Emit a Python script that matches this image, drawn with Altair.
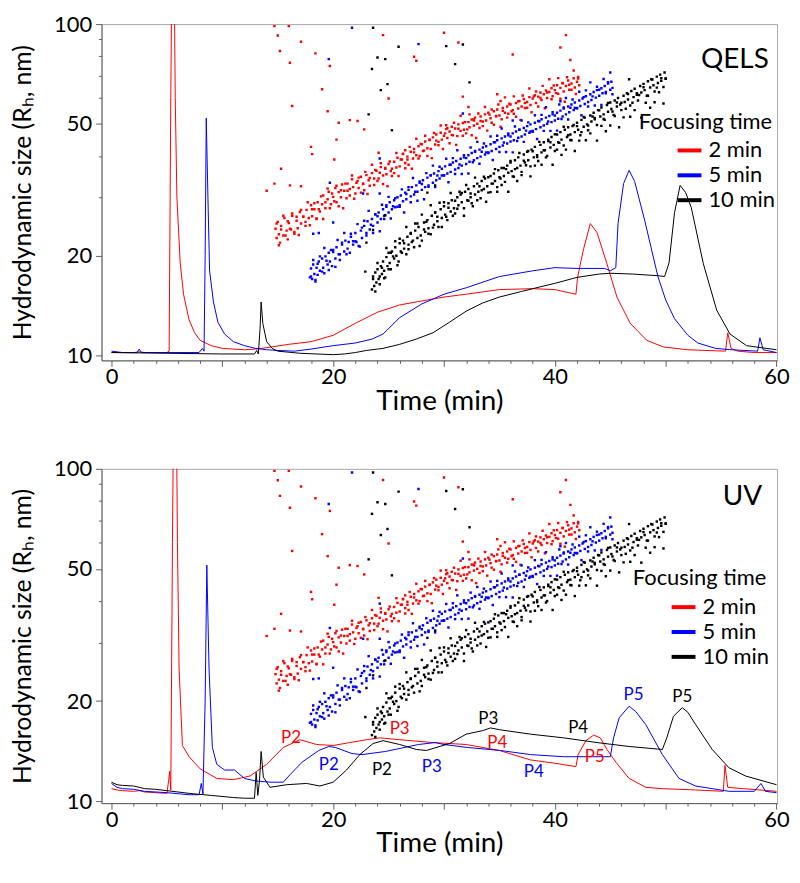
import altair as alt
import pandas as pd

FONT = "Lato"
SERIES = ["2 min", "5 min", "10 min"]
COLORS = ["#ff0000", "#0000ff", "#000000"]
X_TICKS = list(range(0, 61, 2))
Y_TICKS = [10, 20, 30, 40, 50, 60, 70, 80, 90, 100]

# ---- size-from-light-scattering points (same in both panels) ----
red_band = [(14.8, 24.1), (14.9, 22.6), (15.0, 25.3), (15.1, 23.2), (15.2, 21.9), (15.3, 24.6), (15.5, 23.0), (15.6, 26.0),
            (15.8, 23.8), (15.9, 22.4), (16.0, 25.1), (16.2, 24.0), (16.3, 26.4), (16.5, 23.6), (16.7, 25.5), (16.8, 24.2),
            (17.0, 27.1), (17.1, 25.0), (17.3, 26.2), (17.5, 24.6), (17.6, 27.5), (17.8, 26.0), (18.0, 28.4), (18.1, 26.3),
            (18.3, 27.6), (18.5, 25.8), (18.6, 29.0), (18.8, 27.2), (19.0, 28.6), (19.1, 30.4), (19.3, 27.8), (19.5, 29.6),
            (19.6, 31.2), (19.8, 28.6), (20.0, 30.1), (20.2, 32.0), (20.3, 29.0), (20.5, 31.1), (20.7, 30.0), (20.8, 32.8),
            (21.0, 31.4), (21.2, 29.8), (21.3, 33.0), (21.5, 31.8), (21.7, 34.0), (21.8, 32.2), (22.0, 30.8), (22.2, 33.6),
            (22.3, 32.0), (22.5, 34.6), (22.7, 33.0), (22.8, 31.5), (23.0, 35.0), (23.2, 33.8), (23.3, 32.5), (23.5, 35.5),
            (23.7, 34.2), (23.8, 36.3), (24.0, 33.6), (24.2, 35.6), (24.3, 37.0), (24.5, 34.9), (24.7, 36.6), (24.8, 35.2),
            (25.0, 37.8), (25.2, 36.0), (25.3, 34.8), (25.5, 38.4), (25.7, 36.9), (25.8, 39.5), (26.0, 37.2), (26.2, 39.0),
            (26.3, 40.6), (26.5, 38.1), (26.7, 39.8), (26.8, 37.6), (27.0, 41.2), (27.2, 39.3), (27.3, 42.0), (27.5, 40.2),
            (27.7, 42.8), (27.8, 40.0), (28.0, 43.4), (28.2, 41.5), (28.3, 44.2), (28.5, 42.2), (28.7, 44.8), (28.8, 42.0),
            (29.0, 45.5), (29.2, 43.3), (29.3, 46.4), (29.5, 44.1), (29.7, 47.0), (29.8, 44.8), (30.0, 46.0), (30.2, 48.2),
            (30.3, 45.3), (30.5, 47.4), (30.7, 49.0), (30.8, 46.2), (31.0, 48.4), (31.2, 45.9), (31.3, 49.8), (31.5, 47.6),
            (31.7, 50.3), (31.8, 48.0), (32.0, 46.8), (32.2, 50.6), (32.3, 48.8), (32.5, 51.5), (32.7, 49.4), (32.8, 52.2),
            (33.0, 50.0), (33.2, 48.6), (33.3, 52.6), (33.5, 50.8), (33.7, 53.4), (33.8, 51.2), (34.0, 54.0), (34.2, 52.0),
            (34.3, 50.4), (34.5, 54.6), (34.7, 52.8), (34.8, 55.2), (35.0, 53.0), (35.2, 51.6), (35.3, 55.8), (35.5, 54.0),
            (35.7, 56.4), (35.8, 53.6), (36.0, 57.2), (36.2, 55.0), (36.3, 53.6), (36.5, 57.8), (36.7, 55.6), (36.8, 58.6),
            (37.0, 56.4), (37.2, 59.4), (37.3, 55.8), (37.5, 58.2), (37.7, 60.2), (37.8, 57.0), (38.0, 59.6), (38.2, 61.0),
            (38.3, 57.8), (38.5, 60.4), (38.7, 62.2), (38.8, 59.0), (39.0, 61.4), (39.2, 63.0), (39.3, 59.8), (39.5, 62.4),
            (39.7, 64.0), (39.8, 60.6), (40.0, 63.2), (40.2, 65.4), (40.3, 61.6), (40.5, 64.2), (40.7, 66.4), (40.8, 62.6),
            (41.0, 65.0), (41.2, 67.6), (41.3, 63.4), (41.5, 66.2), (41.7, 68.6), (41.8, 64.4), (42.0, 67.0), (42.1, 69.2),
            (42.2, 65.4)]
red_band_b = [(14.9, 25.0), (15.1, 21.5), (15.3, 24.0), (15.5, 26.4), (15.7, 23.0), (15.9, 25.4), (16.1, 24.1), (16.3, 26.8),
              (16.5, 23.3), (16.7, 26.2), (16.9, 23.1), (17.1, 27.5), (17.3, 26.2), (17.5, 25.3), (17.7, 29.0), (17.9, 24.7),
              (18.1, 27.6), (18.3, 28.8), (18.5, 25.9), (18.7, 27.6), (18.9, 30.2), (19.1, 25.8), (19.3, 29.0), (19.5, 31.9),
              (19.7, 27.8), (19.9, 30.8), (20.1, 29.2), (20.3, 32.5), (20.5, 28.2), (20.7, 31.5), (20.9, 27.8), (21.1, 33.0),
              (21.3, 31.4), (21.5, 30.4), (21.7, 34.9), (21.9, 29.7), (22.1, 33.2), (22.3, 34.4), (22.5, 31.0), (22.7, 32.9),
              (22.9, 35.8), (23.1, 30.7), (23.3, 34.3), (23.5, 37.6), (23.7, 32.7), (23.9, 36.1), (24.1, 34.2), (24.3, 38.0),
              (24.5, 32.9), (24.7, 36.8), (24.9, 32.4), (25.1, 38.5), (25.3, 36.6), (25.5, 35.5), (25.7, 40.8), (25.9, 34.8),
              (26.1, 39.0), (26.3, 40.5), (26.5, 36.7), (26.7, 39.0), (26.9, 42.6), (27.1, 36.6), (27.3, 41.0), (27.5, 45.1),
              (27.7, 39.3), (27.9, 43.5), (28.1, 41.4), (28.3, 46.0), (28.5, 40.0), (28.7, 44.7), (28.9, 39.4), (29.1, 46.9),
              (29.3, 44.5), (29.5, 43.1), (29.7, 49.4), (29.9, 42.0), (30.1, 46.8), (30.3, 48.5), (30.5, 43.7), (30.7, 46.3),
              (30.9, 50.4), (31.1, 43.2), (31.3, 48.3), (31.5, 52.9), (31.7, 46.0), (31.9, 50.6), (32.1, 48.1), (32.3, 53.4),
              (32.5, 46.2), (32.7, 51.5), (32.9, 45.3), (33.1, 53.7), (33.3, 51.0), (33.5, 49.2), (33.7, 56.2), (33.9, 47.7),
              (34.1, 53.3), (34.3, 55.2), (34.5, 49.7), (34.7, 52.7), (34.9, 57.2), (35.1, 49.0), (35.3, 54.7), (35.5, 60.1),
              (35.7, 52.2), (35.9, 57.5), (36.1, 54.6), (36.3, 60.5), (36.5, 52.5), (36.7, 58.5), (36.9, 51.4), (37.1, 60.9),
              (37.3, 57.8), (37.5, 55.9), (37.7, 63.9), (37.9, 54.2), (38.1, 60.5), (38.3, 62.6), (38.5, 56.4), (38.7, 59.8),
              (38.9, 65.1), (39.1, 55.7), (39.3, 62.2), (39.5, 68.2), (39.7, 59.3), (39.9, 65.3), (40.1, 61.9), (40.3, 68.7),
              (40.5, 59.5), (40.7, 66.3), (40.9, 58.3), (41.1, 69.1), (41.3, 65.6), (41.5, 63.4), (41.7, 72.4), (41.9, 61.5),
              (42.1, 68.5)]
red_outliers = [(14.7, 98.6), (16.0, 98.6), (15.0, 92.4), (15.2, 82.9), (16.1, 76.4), (17.1, 88.5), (18.4, 81.6),
                (16.3, 56.6), (19.0, 63.6), (19.5, 54.6), (19.7, 74.7), (20.5, 50.4), (20.3, 44.8), (21.5, 51.3),
                (22.2, 51.0), (22.8, 48.1), (20.1, 39.0), (18.0, 42.6), (18.1, 40.5), (15.3, 36.6), (24.1, 40.9),
                (24.5, 92.6), (25.0, 59.6), (14.0, 31.4), (14.7, 33.0), (16.1, 32.6), (17.1, 32.4), (30.0, 94.2),
                (31.3, 88.0), (27.3, 79.7), (27.5, 77.5), (36.2, 81.0), (41.0, 92.6), (40.5, 85.0), (41.4, 77.9),
                (31.7, 60.4), (32.2, 56.2), (34.8, 61.4), (35.1, 58.6), (30.2, 49.5), (32.7, 51.2), (26.5, 41.6)]
blue_band = [(17.9, 17.2), (18.0, 18.3), (18.1, 17.0), (18.2, 18.8), (18.3, 17.6), (18.4, 16.9), (18.5, 18.4), (18.6, 17.5),
             (18.7, 19.2), (18.8, 18.0), (19.0, 19.6), (19.1, 18.4), (19.2, 17.7), (19.3, 19.9), (19.5, 18.8), (19.6, 20.4),
             (19.7, 19.2), (19.9, 18.6), (20.0, 20.8), (20.2, 19.6), (20.3, 21.2), (20.5, 20.2), (20.6, 19.4), (20.8, 21.6),
             (21.0, 20.6), (21.1, 22.2), (21.3, 21.0), (21.5, 20.4), (21.6, 22.8), (21.8, 21.6), (22.0, 23.4), (22.1, 22.0),
             (22.3, 21.4), (22.5, 23.8), (22.6, 22.6), (22.8, 24.6), (23.0, 23.4), (23.1, 25.4), (23.3, 24.0), (23.5, 25.8),
             (23.6, 24.6), (23.8, 26.6), (24.0, 25.2), (24.1, 27.0), (24.3, 25.8), (24.5, 27.6), (24.6, 26.4), (24.8, 28.4),
             (25.0, 27.0), (25.1, 29.0), (25.3, 27.6), (25.5, 29.4), (25.6, 28.0), (25.8, 30.0), (26.0, 28.4), (26.1, 30.4),
             (26.3, 29.2), (26.5, 31.0), (26.6, 29.6), (26.8, 31.6), (27.0, 30.2), (27.1, 32.2), (27.3, 30.6), (27.5, 32.6),
             (27.6, 31.2), (27.8, 33.2), (28.0, 31.6), (28.1, 33.8), (28.3, 32.2), (28.5, 34.4), (28.6, 32.6), (28.8, 35.0),
             (29.0, 33.2), (29.1, 35.4), (29.3, 33.8), (29.5, 36.0), (29.6, 34.2), (29.8, 36.6), (30.0, 35.0), (30.1, 37.2),
             (30.3, 35.4), (30.5, 37.6), (30.6, 35.8), (30.8, 38.2), (31.0, 36.4), (31.1, 38.6), (31.3, 36.8), (31.5, 39.2),
             (31.6, 37.4), (31.8, 39.6), (32.0, 37.8), (32.2, 40.2), (32.3, 38.4), (32.5, 40.8), (32.7, 38.8), (32.8, 41.2),
             (33.0, 39.4), (33.2, 41.8), (33.3, 39.8), (33.5, 42.4), (33.7, 40.4), (33.8, 42.8), (34.0, 41.0), (34.2, 43.4),
             (34.3, 41.4), (34.5, 44.0), (34.7, 42.0), (34.8, 44.6), (35.0, 42.6), (35.2, 45.2), (35.3, 43.0), (35.5, 45.8),
             (35.7, 43.6), (35.8, 46.2), (36.0, 44.2), (36.2, 46.8), (36.3, 44.6), (36.5, 47.4), (36.7, 45.4), (36.8, 48.0),
             (37.0, 45.8), (37.2, 48.6), (37.3, 46.4), (37.5, 49.2), (37.7, 47.0), (37.8, 49.8), (38.0, 47.6), (38.2, 50.4),
             (38.3, 48.2), (38.5, 51.0), (38.7, 48.8), (38.8, 51.6), (39.0, 49.4), (39.2, 52.2), (39.3, 50.0), (39.5, 52.8),
             (39.7, 50.6), (39.8, 53.4), (40.0, 51.2), (40.2, 54.0), (40.3, 51.8), (40.5, 54.8), (40.7, 52.6), (40.8, 55.6),
             (41.0, 53.4), (41.2, 56.4), (41.3, 54.2), (41.5, 57.2), (41.7, 55.0), (41.8, 58.0), (42.0, 55.8), (42.2, 58.8),
             (42.3, 56.6), (42.5, 59.6), (42.7, 57.4), (42.8, 60.6), (43.0, 58.2), (43.2, 61.4), (43.3, 59.0), (43.5, 62.4),
             (43.7, 60.0), (43.8, 63.2), (44.0, 60.8), (44.2, 64.0), (44.3, 61.8), (44.5, 65.0), (44.6, 62.4), (44.8, 66.2),
             (45.0, 63.4), (45.1, 67.0), (45.2, 64.2)]
blue_band_b = [(18.0, 17.3), (18.2, 19.4), (18.4, 16.7), (18.6, 18.9), (18.8, 19.9), (19.0, 17.9), (19.2, 21.1), (19.4, 19.3),
               (19.6, 18.1), (19.8, 20.8), (20.0, 20.5), (20.2, 18.5), (20.4, 22.3), (20.6, 20.2), (20.8, 21.9), (21.0, 23.4),
               (21.2, 20.2), (21.4, 22.0), (21.6, 23.3), (21.8, 22.1), (22.0, 22.1), (22.2, 24.9), (22.4, 21.3), (22.6, 24.3),
               (22.8, 25.5), (23.0, 23.0), (23.2, 27.3), (23.4, 24.8), (23.6, 23.4), (23.8, 26.7), (24.0, 26.3), (24.2, 23.7),
               (24.4, 28.5), (24.6, 25.8), (24.8, 28.1), (25.0, 30.1), (25.2, 25.9), (25.4, 28.2), (25.6, 29.8), (25.8, 28.1),
               (26.0, 28.1), (26.2, 31.7), (26.4, 27.0), (26.6, 30.7), (26.8, 32.2), (27.0, 29.0), (27.2, 34.3), (27.4, 31.2),
               (27.6, 29.3), (27.8, 33.5), (28.0, 32.9), (28.2, 29.6), (28.4, 35.5), (28.6, 32.3), (28.8, 34.9), (29.0, 37.4),
               (29.2, 32.2), (29.4, 34.9), (29.6, 37.1), (29.8, 34.9), (30.0, 34.9), (30.2, 39.2), (30.4, 33.3), (30.6, 37.6),
               (30.8, 39.4), (31.0, 35.3), (31.2, 41.6), (31.4, 37.7), (31.6, 35.3), (31.8, 40.2), (32.0, 39.4), (32.2, 35.4),
               (32.4, 42.4), (32.6, 38.3), (32.8, 41.4), (33.0, 44.1), (33.2, 37.9), (33.4, 41.2), (33.6, 43.6), (33.8, 41.0),
               (34.0, 40.8), (34.2, 45.8), (34.4, 38.9), (34.6, 44.0), (34.8, 46.0), (35.0, 41.1), (35.2, 48.4), (35.4, 43.9),
               (35.6, 41.1), (35.8, 46.8), (36.0, 45.8), (36.2, 41.0), (36.4, 49.1), (36.6, 44.4), (36.8, 48.0), (37.0, 51.2),
               (37.2, 44.1), (37.4, 47.7), (37.6, 50.5), (37.8, 47.4), (38.0, 47.3), (38.2, 53.1), (38.4, 45.0), (38.6, 50.9),
               (38.8, 53.2), (39.0, 47.6), (39.2, 56.1), (39.4, 50.8), (39.6, 47.6), (39.8, 54.2), (40.0, 53.0), (40.2, 47.7),
               (40.4, 57.2), (40.6, 51.7), (40.8, 56.0), (41.0, 59.8), (41.2, 51.5), (41.4, 55.9), (41.6, 59.2), (41.8, 55.8),
               (42.0, 55.7), (42.2, 62.5), (42.4, 53.1), (42.6, 60.2), (42.8, 63.1), (43.0, 56.4), (43.2, 66.7), (43.4, 60.5),
               (43.6, 56.8), (43.8, 64.7), (44.0, 63.4), (44.2, 57.0), (44.4, 68.3), (44.6, 61.8), (44.8, 66.8), (45.0, 71.4),
               (45.2, 61.4)]
blue_outliers = [(21.7, 97.5), (19.6, 78.4), (19.7, 33.2), (20.0, 25.2), (18.2, 23.3), (18.7, 23.4), (22.7, 30.8),
                 (24.2, 30.8), (24.2, 39.3), (27.7, 87.0), (31.7, 53.7), (36.2, 51.2), (40.5, 58.5)]
black_band = [(23.5, 15.8), (23.6, 17.0), (23.7, 16.2), (23.8, 17.8), (23.9, 16.6), (24.0, 18.2), (24.1, 17.0), (24.2, 16.4),
              (24.3, 18.6), (24.4, 17.6), (24.5, 19.2), (24.6, 18.0), (24.7, 17.2), (24.8, 19.8), (24.9, 18.6), (25.0, 20.4),
              (25.1, 19.0), (25.2, 18.2), (25.3, 20.6), (25.5, 19.6), (25.6, 21.2), (25.7, 20.0), (25.9, 19.2), (26.0, 21.8),
              (26.1, 20.6), (26.3, 22.2), (26.4, 21.0), (26.6, 20.2), (26.7, 22.8), (26.8, 21.6), (27.0, 23.4), (27.1, 22.0),
              (27.3, 21.2), (27.4, 23.8), (27.6, 22.6), (27.7, 24.4), (27.9, 23.0), (28.0, 22.2), (28.2, 25.2), (28.3, 23.6),
              (28.5, 25.6), (28.6, 24.2), (28.8, 23.2), (28.9, 26.4), (29.1, 24.8), (29.2, 27.0), (29.4, 25.4), (29.5, 24.4),
              (29.7, 27.6), (29.8, 26.0), (30.0, 28.2), (30.1, 26.6), (30.3, 25.6), (30.4, 28.8), (30.6, 27.2), (30.7, 29.4),
              (30.9, 27.8), (31.0, 26.8), (31.2, 30.0), (31.3, 28.4), (31.5, 30.6), (31.6, 29.0), (31.8, 27.8), (31.9, 31.2),
              (32.1, 29.4), (32.2, 31.8), (32.4, 30.0), (32.5, 28.8), (32.7, 32.4), (32.8, 30.6), (33.0, 33.0), (33.1, 31.2),
              (33.3, 29.8), (33.4, 33.6), (33.6, 31.8), (33.7, 34.2), (33.9, 32.4), (34.0, 31.0), (34.2, 34.8), (34.3, 33.0),
              (34.5, 35.4), (34.6, 33.6), (34.8, 32.2), (34.9, 36.2), (35.1, 34.2), (35.2, 36.8), (35.4, 34.8), (35.5, 33.4),
              (35.7, 37.4), (35.8, 35.6), (36.0, 38.2), (36.1, 36.0), (36.3, 34.6), (36.4, 38.8), (36.6, 36.8), (36.7, 39.6),
              (36.9, 37.4), (37.0, 35.8), (37.2, 40.4), (37.3, 38.2), (37.5, 41.2), (37.6, 38.8), (37.8, 37.2), (37.9, 41.8),
              (38.1, 39.6), (38.2, 42.6), (38.4, 40.2), (38.5, 38.6), (38.7, 43.2), (38.8, 41.0), (39.0, 44.0), (39.1, 41.6),
              (39.3, 40.0), (39.4, 44.8), (39.6, 42.4), (39.7, 45.6), (39.9, 43.2), (40.0, 41.4), (40.2, 46.4), (40.3, 44.0),
              (40.5, 47.2), (40.6, 44.8), (40.8, 43.0), (40.9, 48.0), (41.1, 45.6), (41.2, 48.8), (41.4, 46.4), (41.5, 44.6),
              (41.7, 49.6), (41.8, 47.2), (42.0, 50.4), (42.1, 48.0), (42.3, 46.2), (42.4, 51.4), (42.6, 49.0), (42.7, 52.2),
              (42.9, 49.8), (43.0, 47.8), (43.2, 53.0), (43.3, 50.8), (43.5, 54.0), (43.6, 51.6), (43.8, 49.6), (43.9, 55.0),
              (44.1, 52.6), (44.2, 56.0), (44.4, 53.4), (44.5, 51.4), (44.7, 57.0), (44.8, 54.4), (45.0, 58.0), (45.1, 55.4),
              (45.3, 53.2), (45.4, 58.8), (45.6, 56.4), (45.7, 59.8), (45.9, 57.2), (46.0, 55.0), (46.2, 60.8), (46.3, 58.2),
              (46.5, 61.8), (46.6, 59.2), (46.8, 56.8), (46.9, 62.8), (47.1, 60.2), (47.2, 63.8), (47.4, 61.2), (47.5, 58.8),
              (47.7, 65.0), (47.8, 62.2), (48.0, 66.0), (48.1, 63.2), (48.3, 60.8), (48.4, 67.2), (48.6, 64.4), (48.7, 68.2),
              (48.9, 65.4), (49.0, 62.6), (49.2, 69.4), (49.3, 66.4), (49.5, 70.4), (49.6, 67.4), (49.8, 64.6), (49.9, 71.4),
              (50.0, 68.4)]
black_band_b = [(23.6, 17.3), (23.8, 15.6), (24.0, 19.0), (24.2, 17.3), (24.4, 18.4), (24.6, 17.1), (24.8, 21.1), (25.0, 18.2),
                (25.2, 20.4), (25.4, 19.9), (25.6, 22.1), (25.8, 18.7), (26.0, 22.5), (26.2, 20.4), (26.4, 21.8), (26.6, 24.4),
                (26.8, 20.9), (27.0, 23.3), (27.2, 22.2), (27.4, 25.0), (27.6, 25.0), (27.8, 21.4), (28.0, 26.6), (28.2, 24.0),
                (28.4, 25.3), (28.6, 23.3), (28.8, 28.4), (29.0, 24.3), (29.2, 27.0), (29.4, 26.2), (29.6, 28.9), (29.8, 24.4),
                (30.0, 29.0), (30.2, 26.2), (30.4, 27.9), (30.6, 30.9), (30.8, 26.4), (31.0, 29.3), (31.2, 27.7), (31.4, 31.2),
                (31.6, 30.9), (31.8, 26.4), (32.0, 32.7), (32.2, 29.3), (32.4, 30.8), (32.6, 28.2), (32.8, 34.4), (33.0, 29.4),
                (33.2, 32.4), (33.4, 31.5), (33.6, 34.6), (33.8, 29.1), (34.0, 34.5), (34.2, 31.1), (34.4, 33.0), (34.6, 36.5),
                (34.8, 31.2), (35.0, 34.5), (35.2, 32.7), (35.4, 36.8), (35.6, 36.5), (35.8, 31.2), (36.0, 38.6), (36.2, 34.7),
                (36.4, 36.5), (36.6, 33.6), (36.8, 40.8), (37.0, 35.0), (37.2, 38.7), (37.4, 37.5), (37.6, 41.4), (37.8, 34.7),
                (38.0, 41.3), (38.2, 37.4), (38.4, 39.7), (38.6, 44.1), (38.8, 37.6), (39.0, 41.6), (39.2, 39.6), (39.4, 44.4),
                (39.6, 44.0), (39.8, 37.6), (40.0, 46.5), (40.2, 41.8), (40.4, 43.8), (40.6, 40.3), (40.8, 49.0), (41.0, 41.8),
                (41.2, 46.2), (41.4, 44.7), (41.6, 49.2), (41.8, 41.4), (42.0, 49.2), (42.2, 44.5), (42.4, 47.2), (42.6, 52.4),
                (42.8, 44.6), (43.0, 49.4), (43.2, 46.8), (43.4, 52.6), (43.6, 52.1), (43.8, 44.5), (44.0, 54.9), (44.2, 49.3),
                (44.4, 51.7), (44.6, 47.5), (44.8, 57.8), (45.0, 49.4), (45.2, 54.5), (45.4, 52.8), (45.6, 58.0), (45.8, 48.8),
                (46.0, 57.9), (46.2, 52.3), (46.4, 55.5), (46.6, 61.5), (46.8, 52.5), (47.0, 57.9), (47.2, 55.0), (47.4, 61.8),
                (47.6, 61.1), (47.8, 52.2), (48.0, 64.5), (48.2, 57.9), (48.4, 60.8), (48.6, 55.9), (48.8, 68.0), (49.0, 58.1),
                (49.2, 64.3), (49.4, 62.3), (49.6, 68.6), (49.8, 57.6), (50.0, 68.5)]
black_outliers = [(23.6, 97.5), (24.0, 79.3), (24.7, 78.4), (23.5, 73.2), (24.9, 65.9), (24.3, 63.2), (23.2, 53.4),
                  (25.3, 47.8), (23.6, 23.9), (23.0, 21.9), (24.7, 26.5), (22.9, 17.9), (30.2, 85.8), (31.0, 75.7),
                  (31.7, 86.8), (32.3, 66.7), (46.7, 68.2), (29.2, 32.6), (28.5, 31.0), (25.9, 85.4)]

# ---- fractogram traces ----
qels_red = [(0.0, 10.2), (2.0, 10.2), (2.5, 10.25), (3.0, 10.2), (5.0, 10.2), (5.2, 10.3), (5.35, 60), (5.45, 150),
            (5.65, 150), (5.75, 60), (5.9, 30), (6.2, 19), (6.5, 15.3), (7.0, 12.8), (7.5, 11.7), (8.0, 11.1), (9.0, 10.7),
            (10.0, 10.5), (12.0, 10.4), (13.0, 10.45), (14.0, 10.55), (16.0, 10.8), (18.0, 11.0), (20.0, 11.5), (22.0, 12.5),
            (24.0, 13.5), (26.0, 14.2), (28.0, 14.6), (30.0, 15.0), (32.0, 15.3), (35.0, 15.8), (38.0, 15.9), (40.0, 15.8),
            (41.5, 15.4), (41.9, 15.3), (42.05, 17.2), (42.6, 21.0), (43.2, 25.0), (43.8, 23.5), (44.7, 18.9), (45.6, 15.0),
            (46.8, 12.5), (48.3, 11.1), (49.8, 10.6), (52.0, 10.4), (55.4, 10.3), (55.6, 11.7), (55.9, 10.5), (56.5, 10.3),
            (58.0, 10.2), (60.0, 10.2)]
qels_blue = [(0.0, 10.3), (0.5, 10.25), (1.0, 10.2), (2.3, 10.2), (2.5, 10.45), (2.7, 10.2), (7.9, 10.2), (8.2, 10.5),
             (8.35, 10.3), (8.45, 20), (8.55, 52), (8.7, 30), (8.85, 18), (9.2, 14.5), (9.6, 12.6), (10.2, 11.6), (11.0, 11.0),
             (12.0, 10.7), (13.0, 10.5), (14.0, 10.4), (15.0, 10.35), (16.5, 10.3), (18.0, 10.45), (20.0, 10.7), (22.0, 10.9),
             (23.5, 11.2), (24.5, 11.6), (26.0, 13.0), (28.0, 14.3), (30.0, 15.3), (32.0, 16.0), (35.0, 17.3), (38.0, 18.0),
             (40.0, 18.4), (42.0, 18.3), (44.5, 18.3), (45.0, 18.0), (45.5, 18.4), (45.7, 25), (46.2, 33), (46.7, 36.2),
             (47.2, 33.5), (48.1, 25.6), (49.3, 17.3), (50.0, 14.7), (50.8, 12.9), (52.0, 11.5), (52.9, 10.9), (54.5, 10.5),
             (55.9, 10.4), (58.3, 10.3), (58.5, 11.3), (58.8, 10.4), (60.0, 10.2)]
qels_black = [(0.0, 10.2), (5.0, 10.15), (10.0, 10.1), (12.9, 10.1), (13.1, 10.35), (13.25, 10.1), (13.4, 12), (13.5, 14.5),
              (13.65, 12.5), (14.0, 11.0), (14.5, 10.5), (15.0, 10.3), (17.0, 10.15), (20.0, 10.05), (21.0, 10.1), (22.0, 10.2),
              (23.0, 10.35), (24.5, 10.5), (26.0, 10.8), (27.5, 11.2), (29.0, 11.7), (30.5, 12.6), (32.0, 13.6), (33.5, 14.4),
              (35.0, 15.0), (37.0, 15.6), (39.0, 16.2), (40.0, 16.5), (42.0, 17.2), (44.0, 17.6), (45.0, 17.7), (47.0, 17.6),
              (49.3, 17.4), (49.9, 17.3), (50.3, 19), (50.8, 27), (51.3, 32.6), (51.8, 31.0), (52.3, 28.0), (53.4, 18.9),
              (54.6, 13.7), (55.8, 11.6), (57.3, 10.7), (60.0, 10.4)]
uv_red = [(0.0, 10.9), (0.5, 10.8), (1.0, 10.75), (2.0, 10.7), (2.5, 10.75), (3.0, 10.65), (4.0, 10.6), (5.0, 10.55),
          (5.15, 11.5), (5.25, 12.3), (5.35, 10.8), (5.5, 60), (5.6, 150), (5.85, 150), (5.95, 60), (6.1, 25), (6.4, 14.7),
          (7.0, 13.6), (8.0, 12.5), (9.5, 11.7), (11.0, 11.6), (12.5, 11.9), (14.0, 12.9), (15.5, 14.5), (17.0, 15.3),
          (18.5, 14.8), (20.0, 14.7), (21.5, 15.0), (23.0, 15.3), (24.2, 15.5), (26.0, 15.3), (29.0, 15.0), (32.0, 14.8),
          (35.0, 14.2), (37.8, 13.3), (40.0, 13.0), (41.9, 12.7), (42.1, 13.8), (42.8, 15.2), (43.5, 15.8), (44.1, 15.5),
          (44.7, 14.3), (45.5, 13.1), (46.7, 11.7), (48.2, 11.0), (49.7, 10.9), (52.7, 10.8), (55.2, 10.7), (55.35, 12.8),
          (55.6, 11.0), (57.0, 10.9), (60.0, 10.7)]
uv_blue = [(0.0, 11.3), (0.5, 11.0), (1.0, 10.9), (2.0, 10.85), (3.0, 10.7), (5.0, 10.6), (7.0, 10.45), (7.9, 10.45),
           (8.1, 11.3), (8.25, 10.5), (8.45, 20), (8.6, 51.3), (8.8, 25), (9.1, 14.5), (9.5, 12.9), (10.2, 12.4), (11.1, 12.4),
           (12.0, 11.7), (13.0, 11.5), (14.3, 11.4), (15.5, 11.4), (16.1, 12.0), (17.2, 13.1), (18.7, 14.2), (19.6, 14.6),
           (20.2, 14.5), (21.7, 13.9), (22.6, 13.8), (24.7, 14.1), (27.7, 14.8), (29.2, 15.0), (30.0, 14.8), (32.1, 14.5),
           (35.1, 14.2), (37.8, 13.8), (40.8, 13.6), (45.0, 13.6), (45.3, 15.5), (45.8, 17.8), (46.7, 19.3), (47.3, 18.6),
           (48.2, 17.0), (49.7, 13.8), (51.2, 11.7), (52.7, 11.1), (55.7, 10.7), (58.0, 10.7), (58.6, 11.3), (59.0, 10.7),
           (60.0, 10.6)]
uv_black = [(0.0, 11.4), (0.5, 11.2), (1.0, 11.15), (2.0, 11.1), (3.0, 10.9), (4.0, 10.85), (5.0, 10.75), (7.0, 10.55),
            (9.0, 10.4), (11.0, 10.25), (12.0, 10.2), (12.9, 10.2), (13.05, 12.2), (13.2, 10.4), (13.35, 11.5), (13.5, 14.1),
            (13.7, 11.8), (14.3, 11.0), (15.8, 11.2), (17.6, 11.3), (18.8, 11.1), (20.0, 11.4), (21.2, 12.4), (22.4, 13.8),
            (23.6, 14.9), (24.5, 15.2), (26.0, 14.8), (27.5, 14.3), (28.4, 14.2), (30.5, 14.9), (32.0, 15.9), (33.5, 16.3),
            (34.2, 16.6), (35.0, 16.4), (37.8, 15.9), (40.8, 15.5), (43.8, 15.0), (46.7, 14.6), (49.7, 14.3), (50.1, 15.5),
            (50.7, 18.0), (51.5, 19.1), (52.0, 18.5), (52.7, 17.0), (54.2, 14.3), (55.7, 12.6), (57.2, 11.9), (60.0, 11.2)]

# ---- peak labels in the UV panel: (text, time, size, series) ----
uv_peaks = [("P2", 16.2, 15.5, "2 min"), ("P3", 26.0, 16.5, "2 min"), ("P4", 34.8, 15.0, "2 min"), ("P5", 43.6, 13.6, "2 min"),
            ("P2", 19.6, 12.8, "5 min"), ("P3", 28.9, 12.7, "5 min"), ("P4", 38.1, 12.2, "5 min"), ("P5", 47.1, 20.8, "5 min"),
            ("P2", 24.4, 12.4, "10 min"), ("P3", 34.0, 17.7, "10 min"), ("P4", 42.1, 16.6, "10 min"), ("P5", 51.5, 20.6, "10 min")]
panel_tags = [("QELS", 59.3, 77.7), ("UV", 58.7, 82.0)]


def frame(pairs, series):
    return pd.DataFrame(pairs, columns=["t", "r"]).assign(series=series)


points_df = pd.concat([frame(red_band + red_band_b + red_outliers, "2 min"),
                       frame(blue_band + blue_band_b + blue_outliers, "5 min"),
                       frame(black_band + black_band_b + black_outliers, "10 min")], ignore_index=True)
qels_df = pd.concat([frame(qels_red, "2 min"), frame(qels_blue, "5 min"), frame(qels_black, "10 min")], ignore_index=True)
uv_df = pd.concat([frame(uv_red, "2 min"), frame(uv_blue, "5 min"), frame(uv_black, "10 min")], ignore_index=True)
peaks_df = pd.DataFrame(uv_peaks, columns=["label", "t", "r", "series"])

color_scale = alt.Scale(domain=SERIES, range=COLORS)

x_axis = alt.Axis(title="Time (min)", values=X_TICKS, labelExpr="datum.value % 20 === 0 ? datum.label : ''",
                  tickSize={"condition": {"test": "datum.value % 10 === 0", "value": 6}, "value": 3},
                  labelFontSize=22, titleFontSize=28, titleFontWeight="normal", labelColor="black", titleColor="black",
                  labelPadding=0, titlePadding=0, grid=False, labelOverlap=False, labelFlush=False,
                  domainColor="#606060", tickColor="#606060")
y_axis = alt.Axis(title="Hydrodynamic size (R\u2095, nm)", values=Y_TICKS,
                  labelExpr="(datum.value == 10 || datum.value == 20 || datum.value == 50 || datum.value == 100) ? datum.label : ''",
                  tickSize={"condition": {"test": "datum.value == 10 || datum.value == 20 || datum.value == 50 || datum.value == 100", "value": 6}, "value": 3},
                  format="d", labelFontSize=22, titleFontSize=24.8, titleFontWeight="normal", labelColor="black",
                  titleColor="black", labelPadding=4, titlePadding=18, grid=False, labelOverlap=False,
                  domainColor="#606060", tickColor="#606060")


def panel(lines_df, tag, ydom, lx, ly, h, peaks=None):
    x = alt.X("t:Q", scale=alt.Scale(domain=[-0.9, 60.05], nice=False, zero=False), axis=x_axis)
    y = alt.Y("r:Q", scale=alt.Scale(type="log", domain=ydom, nice=False), axis=y_axis)
    legend = alt.Legend(title="Focusing time", orient="none", legendX=lx, legendY=ly, direction="vertical",
                        titleFontSize=22, titleFontWeight="normal", titleColor="black", titlePadding=3,
                        labelFontSize=22, labelColor="black", labelOffset=5, labelLimit=300,
                        symbolType="stroke", symbolStrokeWidth=4, symbolSize=576, symbolOffset=37, rowPadding=0)
    pts = alt.Chart(points_df).mark_square(size=6, opacity=1, clip=True).encode(
        x=x, y=y, color=alt.Color("series:N", scale=color_scale, legend=None))
    lns = alt.Chart(lines_df).mark_line(strokeWidth=1, clip=True).encode(
        x=x, y=y, color=alt.Color("series:N", scale=color_scale, legend=legend, sort=SERIES))
    tag_df = pd.DataFrame([t for t in panel_tags if t[0] == tag], columns=["label", "t", "r"])
    tag_txt = alt.Chart(tag_df).mark_text(align="right", baseline="middle", fontSize=28, color="black").encode(
        x=x, y=y, text="label:N")
    layers = [lns, pts, tag_txt]
    if peaks is not None:
        layers.append(alt.Chart(peaks).mark_text(fontSize=17, baseline="middle").encode(
            x=x, y=y, text="label:N", color=alt.Color("series:N", scale=color_scale, legend=None)))
    return alt.layer(*layers).properties(width=679, height=h)


top = panel(qels_df, "QELS", [9.66, 100], 540, 88, 338)
bottom = panel(uv_df, "UV", [9.86, 100], 534, 100, 336, peaks_df)

chart = alt.vconcat(top, bottom, spacing=41).resolve_scale(color="independent").properties(
    padding={"left": 2, "top": 2, "right": 2, "bottom": 0}
).configure(font=FONT).configure_view(stroke="#a8a8a8", strokeWidth=1)

chart.save("out.html", embed_options={"renderer": "svg", "actions": False})
